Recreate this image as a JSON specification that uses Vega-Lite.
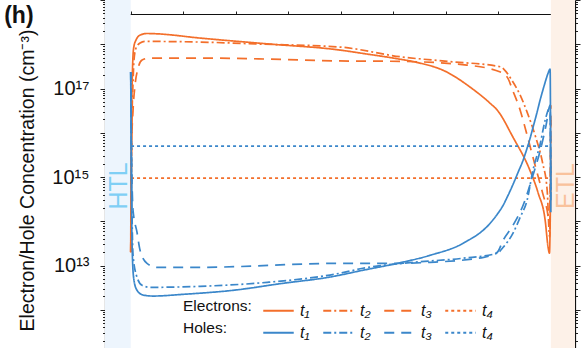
{
"$schema": "https://vega.github.io/schema/vega-lite/v6.json",
"width": 470, "height": 354,
"autosize": {"type": "none"},
"padding": {"left": 105, "top": 0, "right": 6, "bottom": 0},
"background": "white",
"data": {"values": [{}]},
"datasets": {"curves": [
{"k":"Electrons","t":"t1","x":0,"y":1.99e13},{"k":"Electrons","t":"t1","x":0.3,"y":1.43e15},{"k":"Electrons","t":"t1","x":0.76,"y":1.93e16},{"k":"Electrons","t":"t1","x":1.24,"y":1.0e17},{"k":"Electrons","t":"t1","x":2.2,"y":5.7e17},{"k":"Electrons","t":"t1","x":3.1,"y":9.1e17},{"k":"Electrons","t":"t1","x":5,"y":1.24e18},{"k":"Electrons","t":"t1","x":8.9,"y":1.61e18},{"k":"Electrons","t":"t1","x":15.5,"y":1.75e18},{"k":"Electrons","t":"t1","x":25,"y":1.72e18},{"k":"Electrons","t":"t1","x":66,"y":1.38e18},{"k":"Electrons","t":"t1","x":130,"y":1.02e18},{"k":"Electrons","t":"t1","x":199,"y":7.4e17},{"k":"Electrons","t":"t1","x":221,"y":6.2e17},{"k":"Electrons","t":"t1","x":254,"y":4.7e17},{"k":"Electrons","t":"t1","x":269,"y":4.05e17},{"k":"Electrons","t":"t1","x":301,"y":2.35e17},{"k":"Electrons","t":"t1","x":323,"y":1.08e17},{"k":"Electrons","t":"t1","x":342,"y":4.68e16},{"k":"Electrons","t":"t1","x":349,"y":3.24e16},{"k":"Electrons","t":"t1","x":364,"y":7.9e15},{"k":"Electrons","t":"t1","x":380,"y":1.43e15},{"k":"Electrons","t":"t1","x":388,"y":4.3e14},{"k":"Electrons","t":"t1","x":394.6,"y":1.05e14},{"k":"Electrons","t":"t1","x":397.4,"y":2.58e13},{"k":"Electrons","t":"t1","x":398.7,"y":1.89e13},{"k":"Electrons","t":"t1","x":400,"y":2.4e15},
{"k":"Electrons","t":"t2","x":0,"y":1.99e13},{"k":"Electrons","t":"t2","x":0.76,"y":1.43e15},{"k":"Electrons","t":"t2","x":1.24,"y":1.93e16},{"k":"Electrons","t":"t2","x":2.2,"y":1.38e17},{"k":"Electrons","t":"t2","x":3.1,"y":4.39e17},{"k":"Electrons","t":"t2","x":5,"y":8.2e17},{"k":"Electrons","t":"t2","x":8.9,"y":1.07e18},{"k":"Electrons","t":"t2","x":13.6,"y":1.16e18},{"k":"Electrons","t":"t2","x":66,"y":1.12e18},{"k":"Electrons","t":"t2","x":123,"y":1.01e18},{"k":"Electrons","t":"t2","x":199,"y":8.65e17},{"k":"Electrons","t":"t2","x":257,"y":5.2e17},{"k":"Electrons","t":"t2","x":304,"y":4.05e17},{"k":"Electrons","t":"t2","x":352,"y":3.1e17},{"k":"Electrons","t":"t2","x":356,"y":2.61e17},{"k":"Electrons","t":"t2","x":362.8,"y":1.55e17},{"k":"Electrons","t":"t2","x":370.8,"y":7.1e16},{"k":"Electrons","t":"t2","x":377.4,"y":2.92e16},{"k":"Electrons","t":"t2","x":385,"y":8.8e15},{"k":"Electrons","t":"t2","x":392,"y":2.16e15},{"k":"Electrons","t":"t2","x":396.5,"y":5.0e14},{"k":"Electrons","t":"t2","x":398.9,"y":4.35e13},{"k":"Electrons","t":"t2","x":400,"y":1.93e16},
{"k":"Electrons","t":"t3","x":0,"y":1.99e13},{"k":"Electrons","t":"t3","x":0.76,"y":4.04e15},{"k":"Electrons","t":"t3","x":2.2,"y":3.24e16},{"k":"Electrons","t":"t3","x":4.1,"y":1.19e17},{"k":"Electrons","t":"t3","x":7,"y":2.9e17},{"k":"Electrons","t":"t3","x":10.8,"y":4.39e17},{"k":"Electrons","t":"t3","x":18.4,"y":4.88e17},{"k":"Electrons","t":"t3","x":66,"y":4.88e17},{"k":"Electrons","t":"t3","x":130,"y":4.63e17},{"k":"Electrons","t":"t3","x":199,"y":4.2e17},{"k":"Electrons","t":"t3","x":257,"y":4.1e17},{"k":"Electrons","t":"t3","x":320,"y":3.38e17},{"k":"Electrons","t":"t3","x":352,"y":2.35e17},{"k":"Electrons","t":"t3","x":359,"y":1.72e17},{"k":"Electrons","t":"t3","x":363.6,"y":9.2e16},{"k":"Electrons","t":"t3","x":370.8,"y":3.24e16},{"k":"Electrons","t":"t3","x":377.4,"y":8.8e15},{"k":"Electrons","t":"t3","x":385,"y":1.85e15},{"k":"Electrons","t":"t3","x":392,"y":4.5e14},{"k":"Electrons","t":"t3","x":396.5,"y":1.77e14},{"k":"Electrons","t":"t3","x":398.9,"y":8.1e13},{"k":"Electrons","t":"t3","x":400,"y":4.21e16},
{"k":"Electrons","t":"t4","x":0.3,"y":9.4e14},{"k":"Electrons","t":"t4","x":397.4,"y":9.4e14},
{"k":"Holes","t":"t1","x":0,"y":2.35e17},{"k":"Holes","t":"t1","x":0.76,"y":2.99e14},{"k":"Holes","t":"t1","x":1.7,"y":1.31e13},{"k":"Holes","t":"t1","x":3.1,"y":4.62e12},{"k":"Holes","t":"t1","x":6,"y":2.75e12},{"k":"Holes","t":"t1","x":11.7,"y":2.15e12},{"k":"Holes","t":"t1","x":21.2,"y":2.04e12},{"k":"Holes","t":"t1","x":49.8,"y":2.23e12},{"k":"Holes","t":"t1","x":97.4,"y":2.75e12},{"k":"Holes","t":"t1","x":145,"y":3.96e12},{"k":"Holes","t":"t1","x":190,"y":5.5e12},{"k":"Holes","t":"t1","x":221,"y":7.8e12},{"k":"Holes","t":"t1","x":254,"y":1.12e13},{"k":"Holes","t":"t1","x":285,"y":1.7e13},{"k":"Holes","t":"t1","x":316.5,"y":3.18e13},{"k":"Holes","t":"t1","x":342.2,"y":9.0e13},{"k":"Holes","t":"t1","x":349,"y":1.44e14},{"k":"Holes","t":"t1","x":354.6,"y":2.3e14},{"k":"Holes","t":"t1","x":358.4,"y":3.49e14},{"k":"Holes","t":"t1","x":364.1,"y":6.9e14},{"k":"Holes","t":"t1","x":368.9,"y":1.29e15},{"k":"Holes","t":"t1","x":373.6,"y":2.4e15},{"k":"Holes","t":"t1","x":377.4,"y":4.5e15},{"k":"Holes","t":"t1","x":380.3,"y":7.6e15},{"k":"Holes","t":"t1","x":383.1,"y":1.34e16},{"k":"Holes","t":"t1","x":386.9,"y":2.92e16},{"k":"Holes","t":"t1","x":389.8,"y":5.5e16},{"k":"Holes","t":"t1","x":392.7,"y":9.7e16},{"k":"Holes","t":"t1","x":395.5,"y":1.63e17},{"k":"Holes","t":"t1","x":397.4,"y":2.23e17},{"k":"Holes","t":"t1","x":399.3,"y":2.75e17},{"k":"Holes","t":"t1","x":400,"y":1.6e14},
{"k":"Holes","t":"t2","x":0,"y":2.35e17},{"k":"Holes","t":"t2","x":0.76,"y":1.43e15},{"k":"Holes","t":"t2","x":2.2,"y":1.7e13},{"k":"Holes","t":"t2","x":6,"y":5.41e12},{"k":"Holes","t":"t2","x":10.8,"y":3.56e12},{"k":"Holes","t":"t2","x":18.4,"y":3.21e12},{"k":"Holes","t":"t2","x":66,"y":3.38e12},{"k":"Holes","t":"t2","x":130,"y":4.17e12},{"k":"Holes","t":"t2","x":199,"y":6.67e12},{"k":"Holes","t":"t2","x":221,"y":8.65e12},{"k":"Holes","t":"t2","x":269,"y":1.18e13},{"k":"Holes","t":"t2","x":316.5,"y":1.46e13},{"k":"Holes","t":"t2","x":349,"y":1.89e13},{"k":"Holes","t":"t2","x":354.6,"y":2.58e13},{"k":"Holes","t":"t2","x":364,"y":5.4e13},{"k":"Holes","t":"t2","x":370.8,"y":1.23e14},{"k":"Holes","t":"t2","x":377.4,"y":2.99e14},{"k":"Holes","t":"t2","x":383,"y":1.43e15},{"k":"Holes","t":"t2","x":390,"y":5.8e15},{"k":"Holes","t":"t2","x":394.6,"y":1.93e16},{"k":"Holes","t":"t2","x":399.3,"y":3.79e16},{"k":"Holes","t":"t2","x":400,"y":2.99e14},
{"k":"Holes","t":"t3","x":0,"y":2.35e17},{"k":"Holes","t":"t3","x":0.76,"y":4.04e15},{"k":"Holes","t":"t3","x":2.2,"y":1.77e14},{"k":"Holes","t":"t3","x":6,"y":5.6e13},{"k":"Holes","t":"t3","x":8.9,"y":2.21e13},{"k":"Holes","t":"t3","x":15.5,"y":1.12e13},{"k":"Holes","t":"t3","x":25,"y":9.1e12},{"k":"Holes","t":"t3","x":66,"y":9.1e12},{"k":"Holes","t":"t3","x":199,"y":1.12e13},{"k":"Holes","t":"t3","x":254,"y":1.12e13},{"k":"Holes","t":"t3","x":285,"y":1.18e13},{"k":"Holes","t":"t3","x":336,"y":1.53e13},{"k":"Holes","t":"t3","x":349,"y":1.99e13},{"k":"Holes","t":"t3","x":354.6,"y":3.72e13},{"k":"Holes","t":"t3","x":364,"y":8.1e13},{"k":"Holes","t":"t3","x":373.6,"y":2.3e14},{"k":"Holes","t":"t3","x":383,"y":1.1e15},{"k":"Holes","t":"t3","x":390,"y":4.04e15},{"k":"Holes","t":"t3","x":395.5,"y":1.49e16},{"k":"Holes","t":"t3","x":399.3,"y":4.21e16},{"k":"Holes","t":"t3","x":400,"y":5.0e14},
{"k":"Holes","t":"t4","x":0.3,"y":4.98e15},{"k":"Holes","t":"t4","x":397.4,"y":4.98e15}
]},
"layer": [
{"mark": {"type": "rect", "color": "#edf5fd"},
 "encoding": {"x": {"datum": -24.5, "type": "quantitative", "scale": {"domain": [-24.5, 423], "nice": false, "zero": false}, "axis": {"orient": "top", "offset": -14, "values": [0,50,100,150,200,250,300,350,400], "labels": false, "title": null, "tickSize": 3, "tickColor": "#222", "domainColor": "#111", "domainWidth": 1.2, "grid": false}}, "x2": {"datum": 0}}},
{"mark": {"type": "rect", "color": "#fdf1e8"},
 "encoding": {"x": {"datum": 400, "type": "quantitative"}, "x2": {"datum": 423}}},
{"mark": {"type": "text", "text": "HTL", "angle": 270, "fontSize": 25, "color": "#7fcff5", "align": "center", "baseline": "middle"},
 "encoding": {"x": {"datum": -11.6, "type": "quantitative"}, "y": {"datum": 6.27e14, "type": "quantitative", "scale": {"type": "log", "domain": [1e11, 1e19], "nice": false}, "axis": null}}},
{"mark": {"type": "text", "text": "ETL", "angle": 270, "fontSize": 25, "color": "#f9c29c", "align": "center", "baseline": "middle"},
 "encoding": {"x": {"datum": 414.1, "type": "quantitative"}, "y": {"datum": 6.27e14, "type": "quantitative", "axis": null}}},
{"mark": {"type": "text", "text": "(h)", "fontSize": 23, "fontWeight": "bold", "color": "#111", "align": "left", "baseline": "alphabetic"},
 "encoding": {"x": {"datum": -120.5, "type": "quantitative"}, "y": {"datum": 3.1e18, "type": "quantitative", "axis": null}}},
{"data": {"name": "curves"},
 "transform": [{"filter": "datum.k == 'Electrons'"}],
 "mark": {"type": "line", "strokeWidth": 1.7, "interpolate": "monotone"},
 "encoding": {
  "x": {"field": "x", "type": "quantitative"},
  "y": {"field": "y", "type": "quantitative", "axis": {"orient": "left", "values": [1e11,2e11,3e11,4e11,5e11,6e11,7e11,8e11,9e11,1e12,2e12,3e12,4e12,5e12,6e12,7e12,8e12,9e12,1e13,2e13,3e13,4e13,5e13,6e13,7e13,8e13,9e13,1e14,2e14,3e14,4e14,5e14,6e14,7e14,8e14,9e14,1e15,2e15,3e15,4e15,5e15,6e15,7e15,8e15,9e15,1e16,2e16,3e16,4e16,5e16,6e16,7e16,8e16,9e16,1e17,2e17,3e17,4e17,5e17,6e17,7e17,8e17,9e17,1e18,2e18,3e18,4e18,5e18,6e18,7e18,8e18,9e18,1e19],
    "title": "Electron/Hole Concentration (cm⁻³)", "titleFontSize": 19.5, "titleFontWeight": "normal", "titleColor": "#111", "titleX": -72, "titleY": 180, "titleAngle": -90, "titleAlign": "center", "titleBaseline": "alphabetic",
    "labelExpr": "datum.value == 1e13 ? '10¹³' : datum.value == 1e15 ? '10¹⁵' : datum.value == 1e17 ? '10¹⁷' : ''",
    "labelFontSize": 20, "labelColor": "#111", "labelPadding": 11, "labelOverlap": false, "labelFlush": false, "labelBound": false,
    "tickSize": {"condition": {"test": "abs(log(datum.value)/LN10 - round(log(datum.value)/LN10)) < 0.001", "value": 5}, "value": 2.5},
    "tickColor": "#222", "domainColor": "#111", "domainWidth": 1.2, "grid": false}},
  "color": {"field": "t", "type": "nominal", "scale": {"domain": ["t1","t2","t3","t4"], "range": ["#f36f2b","#f36f2b","#f36f2b","#f36f2b"]},
   "legend": {"orient": "none", "legendX": 78, "legendY": 294, "direction": "horizontal", "columns": 4, "title": "Electrons:", "titleOrient": "left", "titleAnchor": "middle", "titleBaseline": "middle", "titlePadding": 10, "titleFontSize": 15.5, "titleFontWeight": "normal", "titleColor": "#111", "symbolType": "stroke", "symbolSize": 930, "symbolStrokeWidth": 2, "labelFontStyle": "italic", "labelFontSize": 16, "labelColor": "#111", "labelOffset": 5, "columnPadding": 9, "labelExpr": "datum.label == 't1' ? 't₁' : datum.label == 't2' ? 't₂' : datum.label == 't3' ? 't₃' : 't₄'"}},
  "strokeDash": {"field": "t", "type": "nominal", "scale": {"domain": ["t1","t2","t3","t4"], "range": [[1,0],[8,3,2,3],[10,7],[3,3]]}}
 }},
{"data": {"name": "curves"},
 "transform": [{"filter": "datum.k == 'Holes'"}],
 "mark": {"type": "line", "strokeWidth": 1.7, "interpolate": "monotone"},
 "encoding": {
  "x": {"field": "x", "type": "quantitative"},
  "y": {"field": "y", "type": "quantitative", "axis": null},
  "color": {"field": "t", "type": "nominal", "scale": {"domain": ["t1","t2","t3","t4"], "range": ["#3b87ca","#3b87ca","#3b87ca","#3b87ca"]},
   "legend": {"orient": "none", "legendX": 78, "legendY": 316, "direction": "horizontal", "columns": 4, "title": "Holes:", "titleOrient": "left", "titleAnchor": "middle", "titleBaseline": "middle", "titlePadding": 35, "titleFontSize": 15.5, "titleFontWeight": "normal", "titleColor": "#111", "symbolType": "stroke", "symbolSize": 930, "symbolStrokeWidth": 2, "labelFontStyle": "italic", "labelFontSize": 16, "labelColor": "#111", "labelOffset": 5, "columnPadding": 9, "labelExpr": "datum.label == 't1' ? 't₁' : datum.label == 't2' ? 't₂' : datum.label == 't3' ? 't₃' : 't₄'"}},
  "strokeDash": {"field": "t", "type": "nominal", "scale": {"domain": ["t1","t2","t3","t4"], "range": [[1,0],[8,3,2,3],[10,7],[3,3]]}}
 }},
{"mark": {"type": "rule", "opacity": 0},
 "encoding": {"y": {"datum": 1e15, "type": "quantitative", "axis": {"orient": "right", "values": [1e11,2e11,3e11,4e11,5e11,6e11,7e11,8e11,9e11,1e12,2e12,3e12,4e12,5e12,6e12,7e12,8e12,9e12,1e13,2e13,3e13,4e13,5e13,6e13,7e13,8e13,9e13,1e14,2e14,3e14,4e14,5e14,6e14,7e14,8e14,9e14,1e15,2e15,3e15,4e15,5e15,6e15,7e15,8e15,9e15,1e16,2e16,3e16,4e16,5e16,6e16,7e16,8e16,9e16,1e17,2e17,3e17,4e17,5e17,6e17,7e17,8e17,9e17,1e18,2e18,3e18,4e18,5e18,6e18,7e18,8e18,9e18,1e19],
   "labels": false, "title": null, "tickSize": {"condition": {"test": "abs(log(datum.value)/LN10 - round(log(datum.value)/LN10)) < 0.001", "value": 5}, "value": 2.5}, "tickColor": "#222", "domainColor": "#111", "domainWidth": 1.2, "grid": false}}}}
],
"resolve": {"scale": {"color": "independent", "strokeDash": "independent"}, "axis": {"y": "independent"}},
"config": {"font": "Liberation Sans", "view": {"stroke": null}, "axis": {"grid": false}}
}
